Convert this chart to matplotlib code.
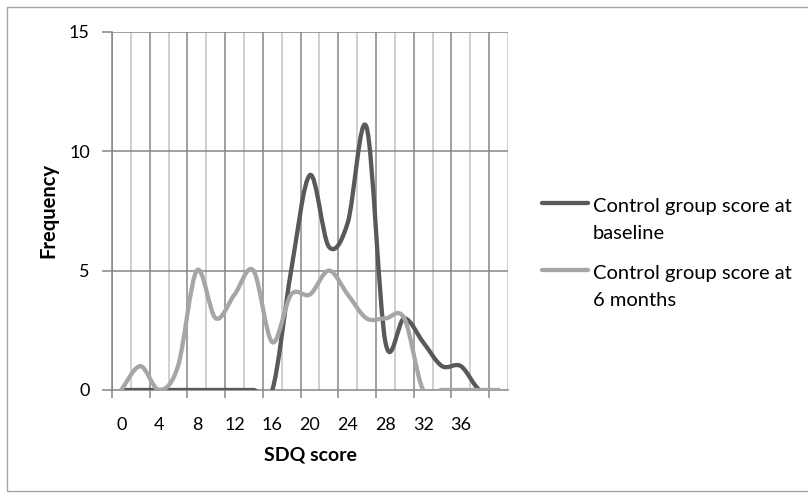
import matplotlib.pyplot as plt
import numpy as np
from matplotlib.path import Path
from matplotlib.patches import PathPatch, Rectangle
from matplotlib.lines import Line2D

# SDQ score categories (every 2 points) and frequencies
scores = list(range(0, 41, 2))
baseline = [0, 0, 0, 0, 0, 0, 0, 0, 0, 5, 9, 6, 7, 11, 2, 3, 2, 1, 1, 0, 0]
six_months = [0, 1, 0, 1, 5, 3, 4, 5, 2, 4, 4, 5, 4, 3, 3, 3, 0, 0, 0, 0, 0]
labels = ['Control group score at\nbaseline', 'Control group score at\n6 months']
colors = ['#595959', '#a6a6a6']
x_tick_labels = list(range(0, 37, 4))
y_ticks = [0, 5, 10, 15]

plt.rcParams['font.family'] = ['Lato', 'DejaVu Sans']


def smooth_path(x, y):
    """
    Excel-like smoothed line: cubic Bezier through every point
    (Catmull-Rom style control points)
    """
    p = np.column_stack([x, y]).astype(float)
    n = len(p)
    verts = [p[0]]
    codes = [Path.MOVETO]
    for i in range(n - 1):
        p_prev = p[i - 1] if i > 0 else p[i]
        p_next = p[i + 2] if i + 2 < n else p[i + 1]
        c1 = p[i] + (p[i + 1] - p_prev) / 6.0
        c2 = p[i + 1] - (p_next - p[i]) / 6.0
        verts += [c1, c2, p[i + 1]]
        codes += [Path.CURVE4] * 3
    return Path(verts, codes)


fig = plt.figure(figsize=(8.08, 4.93), dpi=100)
ax = fig.add_axes([112 / 808, 1 - 390 / 493, 396 / 808, (390 - 31.7) / 493])

ax.set_xlim(-1, 41)
ax.set_ylim(0, 15)

# gridlines: dark every 4, light in between
for gx in range(-1, 42, 2):
    major = (gx + 1) % 4 == 0
    ax.axvline(gx, color='#868686' if major else '#c4c4c4', lw=1.1, zorder=1)
for gy in y_ticks[1:]:
    ax.axhline(gy, color='#868686', lw=1.1, zorder=1)

for vals, col in zip([baseline, six_months], colors):
    patch = PathPatch(smooth_path(scores, vals), facecolor='none', edgecolor=col,
                      lw=3.1, capstyle='round', joinstyle='round', zorder=3)
    ax.add_patch(patch)

for s in ['top', 'right']:
    ax.spines[s].set_visible(False)
for s in ['left', 'bottom']:
    ax.spines[s].set_color('#868686')
    ax.spines[s].set_linewidth(1.1)
    ax.spines[s].set_zorder(2)

ax.set_xticks(x_tick_labels)
ax.set_xticklabels([str(v) for v in x_tick_labels])
ax.set_xticks(list(range(-1, 40, 4)), minor=True)
ax.tick_params(axis='x', which='major', length=0, pad=19.5, labelsize=13)
ax.tick_params(axis='x', which='minor', length=6, width=1.1, color='#868686', direction='out')
ax.set_yticks(y_ticks)
ax.tick_params(axis='y', length=7, width=1.1, color='#868686', pad=9, labelsize=13)

fig.text(310 / 808, 1 - 455 / 493, 'SDQ score', ha='center', va='center',
         fontsize=14, fontweight='bold')
fig.text(48 / 808, 1 - 211 / 493, 'Frequency', ha='center', va='center',
         fontsize=14.5, fontweight='bold', rotation=90)

# legend drawn by hand so the handle lines up with the first text line
for i, (lab, col) in enumerate(zip(labels, colors)):
    ly = 203 + 67 * i
    fig.add_artist(Line2D([542 / 808, 588 / 808], [1 - ly / 493, 1 - ly / 493], color=col,
                          lw=3.1, solid_capstyle='round', transform=fig.transFigure))
    for j, line in enumerate(lab.split('\n')):
        fig.text(593 / 808, 1 - (ly + 9 + 27 * j) / 493, line, ha='left', va='baseline',
                 fontsize=14.5)

# outer chart border
fig.add_artist(Rectangle((7 / 808, 2 / 493), 1.1, 484 / 493, transform=fig.transFigure,
                         fill=False, edgecolor='#a6a6a6', lw=1.0))

fig.savefig('out.png', dpi=100)
